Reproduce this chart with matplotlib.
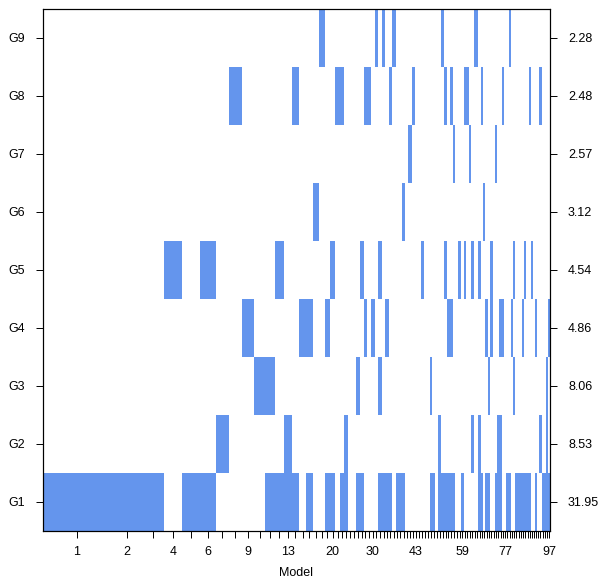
import numpy as np
import matplotlib.pyplot as plt

plt.rcParams['font.family'] = ['Liberation Sans', 'DejaVu Sans']

# posterior model weights (relative widths), models sorted by probability
model_weight = [68, 32, 20.7, 18.5, 17.5, 15.7, 13.3, 13, 12.5, 10.5,
                10, 8.7, 8, 7.6, 7, 6.6, 6.2, 5.8, 5.4, 5.2,
                4.3, 4.2, 4.1, 4.0, 3.9, 3.85, 3.8, 3.75, 3.7, 3.65,
                3.6, 3.55, 3.5, 3.45, 3.4, 3.35, 3.3, 3.25, 3.2, 3.15,
                3.1, 3.05, 3.0, 3.0, 3.0, 2.98, 2.96, 2.94, 2.92, 2.9,
                2.9, 2.88, 2.86, 2.85, 2.84, 2.83, 2.82, 2.8, 2.6, 2.45,
                2.45, 2.45, 2.45, 2.45, 2.45, 2.35, 2.35, 2.35, 2.35, 2.35,
                2.35, 2.35, 2.28, 2.28, 2.28, 2.28, 2.28, 2.28, 2.28, 2.28,
                2.22, 2.22, 2.22, 2.22, 2.22, 2.22, 2.22, 2.22,
                2.12, 2.12, 2.12, 2.12, 2.12, 2.12, 2.12, 2.12, 2.12]

variables = ['G1', 'G2', 'G3', 'G4', 'G5', 'G6', 'G7', 'G8', 'G9']
right_labels = ['31.95', '8.53', '8.06', '4.86', '4.54', '3.12', '2.57', '2.48', '2.28']

# models (1-based) that include each variable
g1 = [1, 2, 3, 5, 6, 11, 12, 13, 14, 16, 19, 20, 22, 23, 26, 27, 32, 33, 34, 35,
      37, 38, 39, 48, 49, 51, 52, 53, 54, 55, 56, 59, 66, 67, 69, 70, 73, 74, 75,
      78, 79, 82, 83, 84, 85, 86, 87, 88, 91, 94, 95, 96, 97]
g2 = [7, 13, 23, 51, 63, 66, 74, 75, 93, 96]
g3 = [10, 11, 26, 32, 48, 70, 81, 96]
g4 = [9, 15, 16, 19, 28, 30, 34, 54, 55, 69, 71, 75, 76, 80, 85, 91, 97]
g5 = [4, 6, 12, 20, 27, 32, 45, 53, 58, 60, 63, 66, 71, 81, 86, 89]
g6 = [17, 39, 68]
g7 = [41, 56, 62, 73]
g8 = [8, 14, 21, 22, 28, 29, 35, 42, 53, 55, 60, 61, 67, 76, 88, 93]
g9 = [18, 31, 33, 36, 52, 64, 65, 79]
included = [g1, g2, g3, g4, g5, g6, g7, g8, g9]

shown_models = [1, 2, 4, 6, 9, 13, 20, 30, 43, 59, 77, 97]

w = np.array(model_weight) / sum(model_weight)
left = np.concatenate([[0], np.cumsum(w)[:-1]])
centers = left + w / 2

fig = plt.figure(figsize=(6.12, 5.82), dpi=100)
ax = fig.add_axes([43 / 612, 51 / 582, 507 / 612, 522.4 / 582])

for i, models in enumerate(included):
    idx = np.array(models) - 1
    ax.bar(left[idx], 1, width=w[idx], bottom=i - 0.5, align='edge',
           color='#6495ED', linewidth=0)

ax.set_xlim(0, 1)
ax.set_ylim(-0.5, len(variables) - 0.5)

ax.set_xticks(centers)
ax.set_xticklabels([str(k + 1) if (k + 1) in shown_models else '' for k in range(len(w))])
ax.tick_params(axis='x', length=5, width=0.7, direction='out', labelsize=9, pad=6)
ax.set_xlabel('Model', fontsize=9, labelpad=6)

ax.set_yticks(range(len(variables)))
ax.set_yticklabels(variables)
ax.tick_params(axis='y', length=5, width=0.7, direction='out', labelsize=9, pad=8)

ax2 = ax.twinx()
ax2.set_ylim(ax.get_ylim())
ax2.set_yticks(range(len(variables)))
ax2.set_yticklabels(right_labels)
ax2.tick_params(axis='y', length=5, width=0.7, direction='out', labelsize=9, pad=8)

for a in (ax, ax2):
    for s in a.spines.values():
        s.set_linewidth(0.8)

fig.savefig('out.png', dpi=100)
